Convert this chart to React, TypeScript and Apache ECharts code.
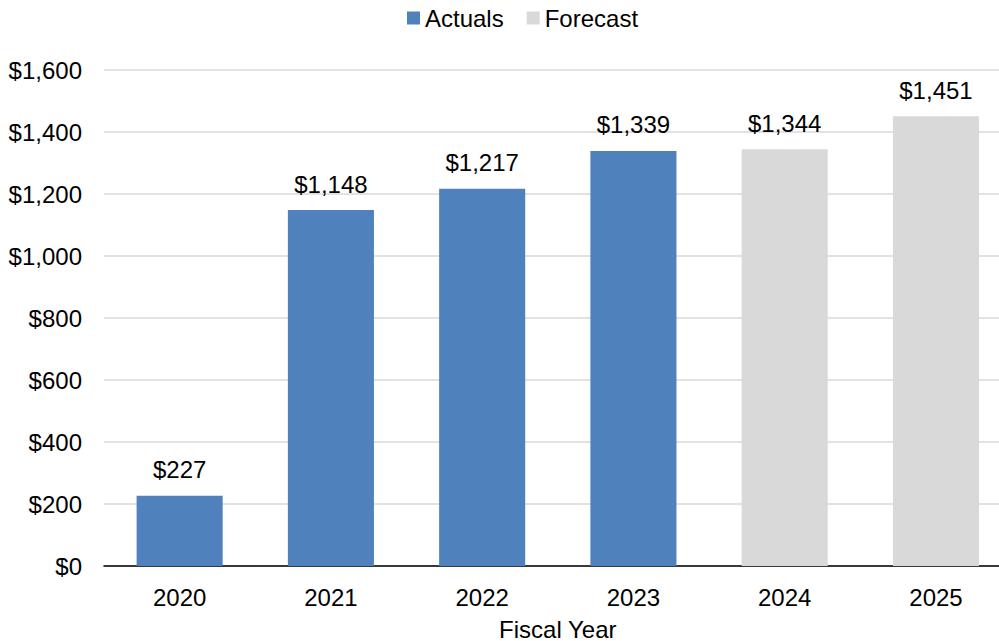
import React, { useEffect, useRef } from "react";
import * as echarts from "echarts";

const categories = ["2020", "2021", "2022", "2023", "2024", "2025"];
const actuals: (number | string)[] = [227, 1148, 1217, 1339, "-", "-"];
const forecast: (number | string)[] = ["-", "-", "-", "-", 1344, 1451];
const yTicks = [0, 200, 400, 600, 800, 1000, 1200, 1400, 1600];

const FONT = "'Liberation Sans', Arial, sans-serif";
const fmt = (v: number) => "$" + v.toLocaleString("en-US");

export default function App() {
  const ref = useRef<HTMLDivElement>(null);
  useEffect(() => {
    if (!ref.current) return;
    const chart = echarts.init(ref.current, undefined, { renderer: "svg" });
    const label = {
      show: true,
      position: "top" as const,
      distance: 14,
      color: "#000",
      fontSize: 24,
      fontFamily: FONT,
      formatter: (p: any) => fmt(p.value),
    };
    chart.setOption({
      animation: false,
      backgroundColor: "#fff",
      textStyle: { fontFamily: FONT },
      legend: {
        top: 1,
        left: 402,
        itemWidth: 13,
        itemHeight: 13,
        itemGap: 23,
        icon: "rect",
        textStyle: { fontSize: 24, color: "#000", fontFamily: FONT },
        data: ["Actuals", "Forecast"],
      },
      grid: {
        left: 104,
        top: 70,
        width: 907.6,
        height: 496,
        containLabel: false,
        outerBoundsMode: "none",
      },
      xAxis: {
        type: "category",
        data: categories,
        name: "Fiscal Year",
        nameLocation: "middle",
        nameGap: 51,
        nameTextStyle: { fontSize: 24, color: "#000", fontFamily: FONT },
        axisLine: { lineStyle: { color: "#000", width: 1.5 } },
        axisTick: { show: false },
        axisLabel: { fontSize: 24, color: "#000", margin: 19, fontFamily: FONT },
      },
      yAxis: {
        type: "value",
        min: yTicks[0],
        max: yTicks[yTicks.length - 1],
        interval: 200,
        axisLine: { show: false },
        axisTick: { show: false },
        splitLine: { lineStyle: { color: "#D9D9D9", width: 1.5 } },
        axisLabel: {
          fontSize: 24,
          color: "#000",
          margin: 22,
          fontFamily: FONT,
          formatter: (v: number) => fmt(v),
        },
      },
      series: [
        {
          name: "Actuals",
          type: "bar",
          stack: "total",
          data: actuals,
          barWidth: "56.9%",
          itemStyle: { color: "#4F81BD" },
          label,
        },
        {
          name: "Forecast",
          type: "bar",
          stack: "total",
          data: forecast,
          barWidth: "56.9%",
          itemStyle: { color: "#D9D9D9" },
          label,
        },
      ],
    });
    return () => chart.dispose();
  }, []);
  return (
    <div
      ref={ref}
      style={{ width: 999, height: 641, position: "fixed", left: 0, top: 0 }}
    />
  );
}
